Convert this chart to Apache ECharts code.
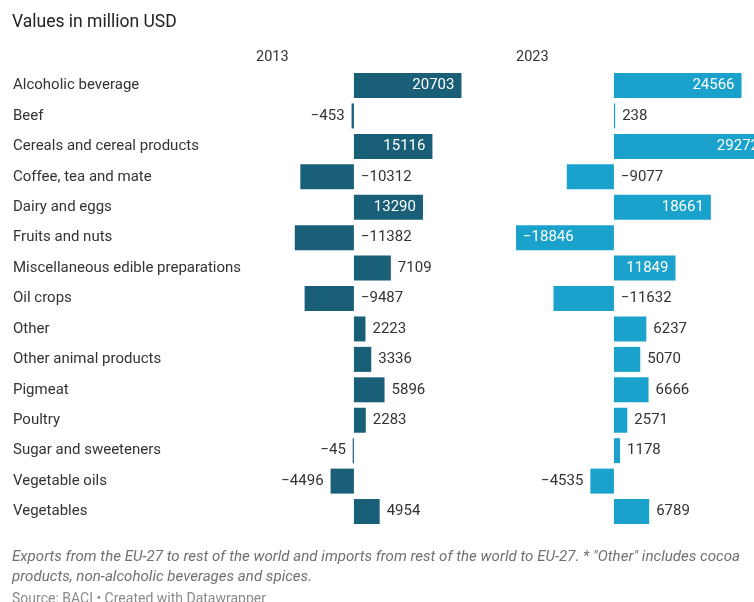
<!DOCTYPE html>
<html>
<head>
<meta charset="utf-8">
<script src="https://cdn.jsdelivr.net/npm/echarts@6/dist/echarts.min.js"></script>
<style>
  html, body { margin: 0; padding: 0; background: #fff; }
  #chart { width: 754px; height: 602px; }
</style>
</head>
<body>
<div id="chart"></div>
<script>
// Food trade balance by product group, EU-27 (million USD)
const categories = [
  'Alcoholic beverage', 'Beef', 'Cereals and cereal products', 'Coffee, tea and mate',
  'Dairy and eggs', 'Fruits and nuts', 'Miscellaneous edible preparations', 'Oil crops',
  'Other', 'Other animal products', 'Pigmeat', 'Poultry', 'Sugar and sweeteners',
  'Vegetable oils', 'Vegetables'
];
const years = ['2013', '2023'];
const values2013 = [20703, -453, 15116, -10312, 13290, -11382, 7109, -9487, 2223, 3336, 5896, 2283, -45, -4496, 4954];
const values2023 = [24566, 238, 29272, -9077, 18661, -18846, 11849, -11632, 6237, 5070, 6666, 2571, 1178, -4535, 6789];

const colors = ['#1a5f78', '#1aa2cc'];
const FONT = 'Roboto, "Liberation Sans", sans-serif';
const W = 754;

// both columns share one value range and one pixel scale
const all = values2013.concat(values2023);
const vMin = Math.min.apply(null, all);
const vMax = Math.max.apply(null, all);

const gridTop = 70.3, rowH = 30.43;
const gridH = rowH * categories.length;
const colLeft = [256, 516], colW = 250;
const pxPerUnit = colW / (vMax - vMin);
// the second column runs past the page edge; keep its scale by trimming the axis
const colWidths = colLeft.map(l => Math.min(colW, W - l));
const colMax = colWidths.map(w => vMin + w / pxPerUnit);

function fmt(v) {
  return (v < 0 ? '\u2212' : '') + Math.abs(v);
}

// value label placement: inside long bars, outside short ones,
// and beside the zero line for mid-sized negatives
function labelItem(params, api) {
  const v = api.value(0), c = api.value(1);
  const pEnd = api.coord([v, c]);
  const pZero = api.coord([0, c]);
  const pad = 7;
  let x, align, fill = '#333';
  if (v >= 9000) { x = pEnd[0] - pad; align = 'right'; fill = '#fff'; }
  else if (v >= 0) { x = Math.max(pEnd[0], pZero[0] + 1) + pad; align = 'left'; }
  else if (v <= -15000) { x = pEnd[0] + pad; align = 'left'; fill = '#fff'; }
  else if (v > -5000) { x = Math.min(pEnd[0], pZero[0] - 1) - pad; align = 'right'; }
  else { x = pZero[0] + pad; align = 'left'; }
  return {
    type: 'text',
    style: {
      x: x, y: pEnd[1], text: fmt(v), fill: fill,
      align: align, verticalAlign: 'middle',
      font: '15px ' + FONT
    }
  };
}

const grids = colLeft.map((l, i) => ({ left: l, top: gridTop, width: colWidths[i], height: gridH }));
const xAxes = colLeft.map((l, i) => ({
  gridIndex: i, type: 'value', min: vMin, max: colMax[i], show: false
}));
const yAxes = colLeft.map((l, i) => ({
  gridIndex: i, type: 'category', data: categories, inverse: true,
  axisLine: { show: false }, axisTick: { show: false }, splitLine: { show: false },
  axisLabel: i === 0 ? {
    show: true, align: 'left', margin: l - 13,
    color: '#333', fontSize: 15, fontFamily: FONT
  } : { show: false }
}));

const seriesData = [values2013, values2023];
const series = [];
seriesData.forEach((vals, i) => {
  series.push({
    type: 'bar', name: years[i], xAxisIndex: i, yAxisIndex: i,
    data: vals, barWidth: 25, barMinHeight: 1.2, clip: true,
    itemStyle: { color: colors[i] },
    silent: true, animation: false
  });
  series.push({
    type: 'custom', xAxisIndex: i, yAxisIndex: i,
    data: vals.map((v, k) => [v, k]),
    encode: { x: 0, y: 1 }, clip: false,
    renderItem: labelItem, silent: true, animation: false, z: 5
  });
});

const chart = echarts.init(document.getElementById('chart'), null, { renderer: 'canvas' });
chart.setOption({
  backgroundColor: '#fff',
  animation: false,
  title: {
    text: 'Values in million USD', left: 12, top: 14, padding: 0,
    textStyle: { fontFamily: FONT, fontSize: 17.5, fontWeight: 'normal', color: '#222' }
  },
  grid: grids,
  xAxis: xAxes,
  yAxis: yAxes,
  series: series,
  graphic: [
    { type: 'text', left: colLeft[0], top: 50, style: { text: years[0], font: '14.5px ' + FONT, fill: '#333' } },
    { type: 'text', left: colLeft[1], top: 50, style: { text: years[1], font: '14.5px ' + FONT, fill: '#333' } },
    { type: 'text', left: 12, top: 547, style: {
      text: 'Exports from the EU-27 to rest of the world and imports from rest of the world to EU-27. * "Other" includes cocoa\nproducts, non-alcoholic beverages and spices.',
      font: 'italic 15.1px ' + FONT, fill: '#707070', lineHeight: 20 } },
    { type: 'text', left: 12, top: 592, style: {
      text: 'Source: BACI \u2022 Created with Datawrapper',
      font: '14px ' + FONT, fill: '#8a8a8a' } }
  ]
});
</script>
</body>
</html>
